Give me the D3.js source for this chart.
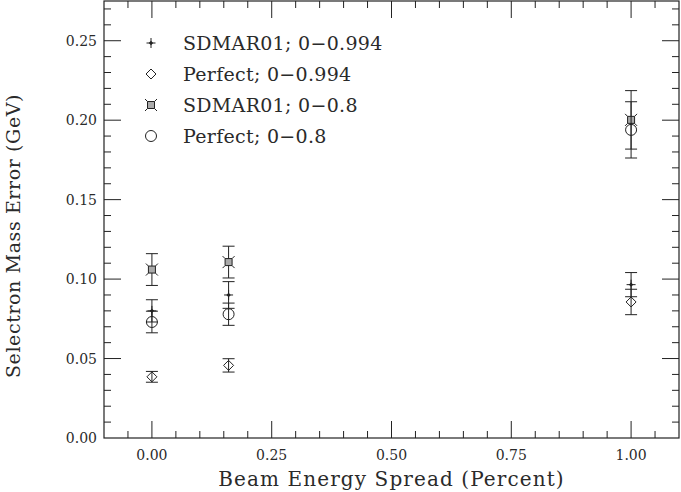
<!DOCTYPE html>
<html>
<head>
<meta charset="utf-8">
<script src="https://cdn.jsdelivr.net/npm/d3@7"></script>
<style>
  body { margin: 0; background: #fff; }
  text { font-family: "DejaVu Serif", serif; fill: #2a2a2a; }
</style>
</head>
<body>
<div id="chart"></div>
<script>
// beam energy spread (percent)
var spread = [0, 0.16, 1.0];

// selectron mass error (GeV) and its uncertainty, one pair per sample
var sdmar994 = [0.080, 0.090, 0.0965],  sdmar994Err = [0.0070, 0.0084, 0.0076];
var perf994  = [0.0385, 0.0457, 0.0856], perf994Err  = [0.0034, 0.0042, 0.0080];
var sdmar08  = [0.106, 0.1107, 0.2002], sdmar08Err  = [0.0100, 0.0100, 0.0184];
var perf08   = [0.073, 0.0779, 0.1939], perf08Err   = [0.0068, 0.0070, 0.0177];

var legendLabels = ["SDMAR01; 0\u22120.994", "Perfect; 0\u22120.994", "SDMAR01; 0\u22120.8", "Perfect; 0\u22120.8"];
var xTicks = [0, 0.25, 0.5, 0.75, 1.0];
var yTicks = [0, 0.05, 0.10, 0.15, 0.20, 0.25];

var width = 681, height = 492;
var pLeft = 104, pRight = 679, pTop = 1, pBottom = 438;
var ink = "#222";

var x = d3.scaleLinear().domain([-0.1, 1.1]).range([pLeft, pRight]);
var y = d3.scaleLinear().domain([0, 0.275]).range([pBottom, pTop]);

var svg = d3.select("#chart").append("svg")
  .attr("width", width)
  .attr("height", height);

// frame
svg.append("rect")
  .attr("x", pLeft).attr("y", pTop)
  .attr("width", pRight - pLeft).attr("height", pBottom - pTop)
  .attr("fill", "none").attr("stroke", ink).attr("stroke-width", 1.2);

// inward ticks on all four sides
var xMinor = d3.range(-0.05, 1.1, 0.05).filter(function(v) {
  return Math.abs(Math.round(v / 0.25) * 0.25 - v) > 1e-6;
});
var yMinor = d3.range(0.01, 0.275, 0.01).filter(function(v) {
  return Math.abs(Math.round(v / 0.05) * 0.05 - v) > 1e-6;
});

var major = 17, minor = 7;
var ticks = svg.append("g").attr("stroke", ink).attr("stroke-width", 1);

function xTick(v, len) {
  ticks.append("line").attr("x1", x(v)).attr("x2", x(v)).attr("y1", pBottom).attr("y2", pBottom - len);
  ticks.append("line").attr("x1", x(v)).attr("x2", x(v)).attr("y1", pTop).attr("y2", pTop + len);
}
function yTick(v, len) {
  ticks.append("line").attr("y1", y(v)).attr("y2", y(v)).attr("x1", pLeft).attr("x2", pLeft + len);
  ticks.append("line").attr("y1", y(v)).attr("y2", y(v)).attr("x1", pRight).attr("x2", pRight - len);
}
xTicks.forEach(function(v) { xTick(v, major); });
xMinor.forEach(function(v) { xTick(v, minor); });
yTicks.forEach(function(v) { if (v > 0) yTick(v, major); });
yMinor.forEach(function(v) { yTick(v, minor); });

// tick labels
svg.append("g").selectAll("text").data(xTicks).enter().append("text")
  .attr("x", function(d) { return x(d); })
  .attr("y", 460)
  .attr("text-anchor", "middle")
  .attr("font-size", 14)
  .text(function(d) { return d3.format(".2f")(d); });

svg.append("g").selectAll("text").data(yTicks).enter().append("text")
  .attr("x", 97)
  .attr("y", function(d) { return y(d) + 5; })
  .attr("text-anchor", "end")
  .attr("font-size", 14)
  .text(function(d) { return d3.format(".2f")(d); });

// axis titles
svg.append("text")
  .attr("x", (pLeft + pRight) / 2).attr("y", 486)
  .attr("text-anchor", "middle")
  .attr("font-size", 20)
  .attr("letter-spacing", 1.1)
  .text("Beam Energy Spread (Percent)");

svg.append("text")
  .attr("transform", "translate(20," + 236 + ") rotate(-90)")
  .attr("text-anchor", "middle")
  .attr("font-size", 19)
  .attr("letter-spacing", 0.6)
  .text("Selectron Mass Error (GeV)");

// marker shapes
function starCross(g) {
  g.append("path").attr("d", "M-4.5,0H4.5M0,-5V5").attr("stroke", ink).attr("fill", "none");
  g.append("path").attr("d", "M0,-2.2L2.2,0L0,2.2L-2.2,0Z").attr("fill", ink);
}
function diamond(g) {
  g.append("path").attr("d", "M0,-5L5,0L0,5L-5,0Z").attr("stroke", ink).attr("fill", "none");
}
function squareStar(g) {
  g.append("path").attr("d", "M-3.5,-3.5H3.5V3.5H-3.5Z").attr("stroke", ink).attr("fill", "#aaa");
  g.append("path").attr("d", "M-3.5,-3.5L-6,-6M3.5,-3.5L6,-6M3.5,3.5L6,6M-3.5,3.5L-6,6")
    .attr("stroke", ink).attr("fill", "none");
}
function circle(g) {
  g.append("circle").attr("r", 5.5).attr("stroke", ink).attr("fill", "none");
}

var series = [
  { vals: sdmar994, errs: sdmar994Err, mark: starCross },
  { vals: perf994,  errs: perf994Err,  mark: diamond },
  { vals: sdmar08,  errs: sdmar08Err,  mark: squareStar },
  { vals: perf08,   errs: perf08Err,   mark: circle }
];

var plot = svg.append("g").attr("stroke-width", 1);

series.forEach(function(s) {
  spread.forEach(function(sp, i) {
    var cx = x(sp), lo = y(s.vals[i] - s.errs[i]), hi = y(s.vals[i] + s.errs[i]);
    plot.append("path")
      .attr("d", "M" + cx + "," + lo + "V" + hi +
                 "M" + (cx - 6) + "," + lo + "H" + (cx + 6) +
                 "M" + (cx - 6) + "," + hi + "H" + (cx + 6))
      .attr("stroke", ink).attr("fill", "none");
    var g = plot.append("g").attr("transform", "translate(" + cx + "," + y(s.vals[i]) + ")");
    s.mark(g);
  });
});

// legend
var legend = svg.append("g").attr("stroke-width", 1);
series.forEach(function(s, i) {
  var ly = 43 + i * 31;
  var g = legend.append("g").attr("transform", "translate(151," + ly + ")");
  s.mark(g);
  legend.append("text")
    .attr("x", 183).attr("y", ly + 7)
    .attr("font-size", 19)
    .attr("letter-spacing", 0.3)
    .text(legendLabels[i]);
});
</script>
</body>
</html>
